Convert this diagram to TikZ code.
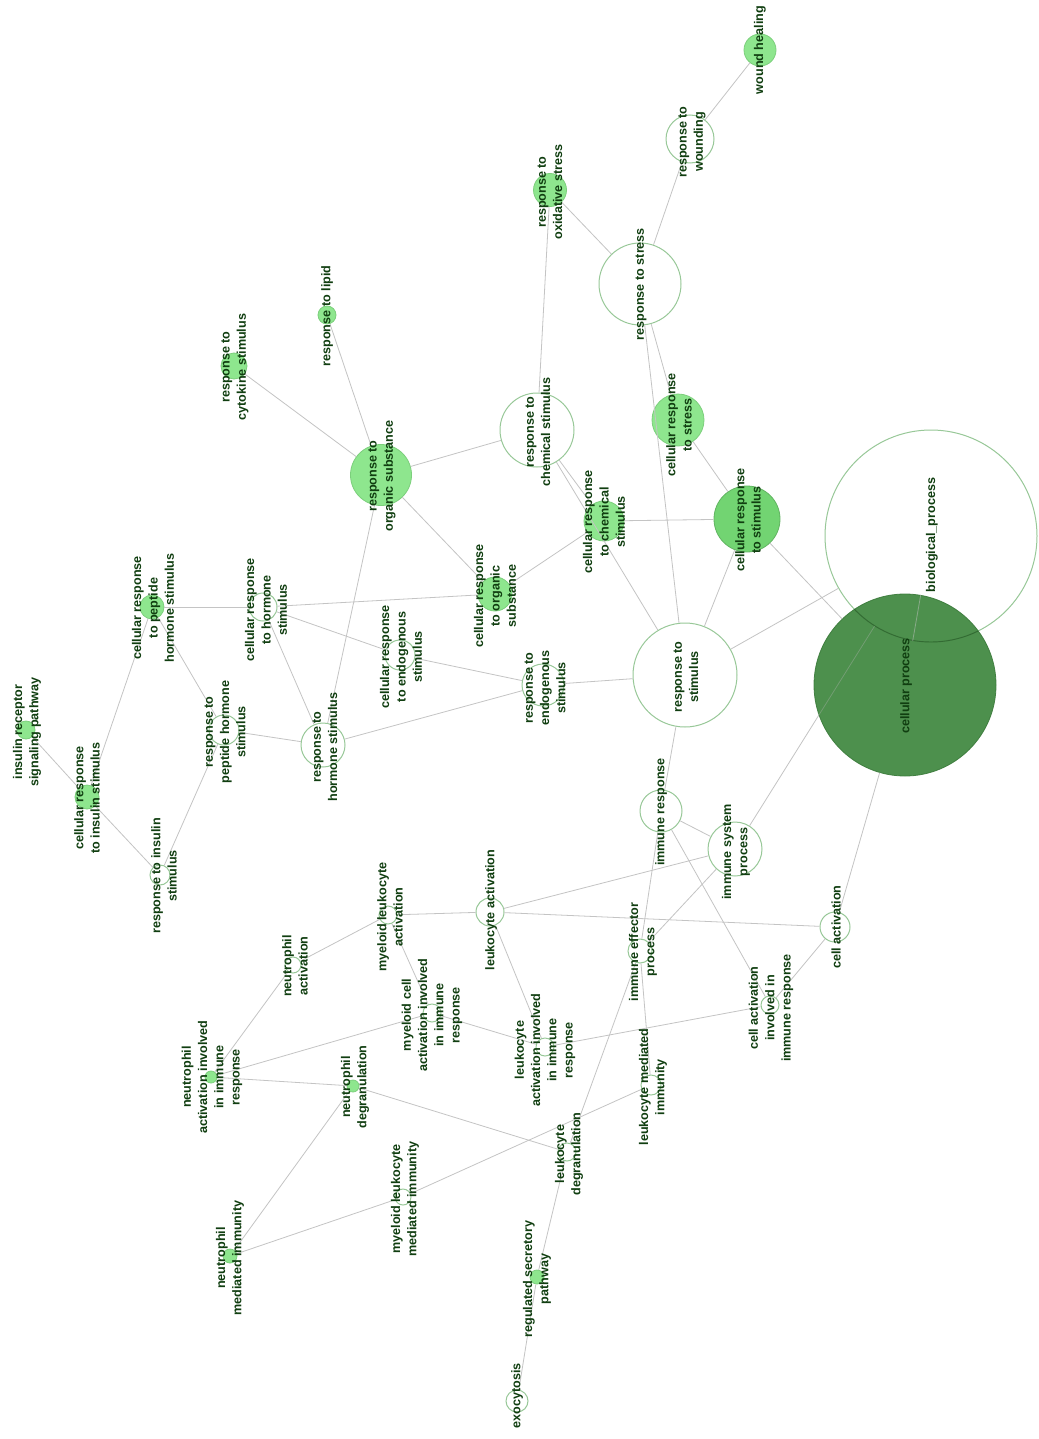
\documentclass[tikz,border=0pt]{standalone}
\usepackage{fontspec}
\setmainfont{Liberation Sans}
\definecolor{edgec}{HTML}{C4C4C4}
\definecolor{wbord}{HTML}{98C898}
\definecolor{lfill}{HTML}{8EE68E}
\definecolor{lbord}{HTML}{7CCF7C}
\definecolor{mfill}{HTML}{72D472}
\definecolor{dfill}{HTML}{3A843A}
\definecolor{dbord}{HTML}{3A7A3A}
\definecolor{txtc}{HTML}{103E10}
\tikzset{
  wn/.style={circle, draw=wbord, line width=1pt, fill=white, inner sep=0pt, minimum size=#1},
  fn/.style={circle, draw=lbord, line width=0.8pt, fill=lfill, inner sep=0pt, minimum size=#1},
  lbl/.style={rotate=90, align=center, inner sep=0pt, text=txtc,
    font=\bfseries\fontsize{12.6}{16.3}\selectfont},
  edge/.style={draw=edgec, line width=0.8pt}
}
\begin{document}
\begin{tikzpicture}[x=1pt,y=-1pt]
\useasboundingbox[fill=white] (0,0) rectangle (1038,1439);
% ---------- coordinates of nodes ----------
\coordinate (wh) at (760,50);
\coordinate (rw) at (690,139);
\coordinate (ros) at (550,190);
\coordinate (rs) at (640,284);
\coordinate (rl) at (327,315);
\coordinate (rcs) at (234,366);
\coordinate (rorg) at (381,475);
\coordinate (rchem) at (537,430);
\coordinate (crstr) at (678,420);
\coordinate (bio) at (931,536);
\coordinate (crstim) at (747,519);
\coordinate (crchem) at (604,521);
\coordinate (cp) at (905,685);
\coordinate (rstim) at (685,675);
\coordinate (crorg) at (495,594);
\coordinate (crendo) at (400,655);
\coordinate (rendo) at (543,685);
\coordinate (crhs) at (263,607);
\coordinate (crphs) at (152,607);
\coordinate (irsp) at (26,730);
\coordinate (cris) at (87,797);
\coordinate (rphs) at (224,730);
\coordinate (ris) at (160,875);
\coordinate (rhs) at (323,745);
\coordinate (ir) at (661,811);
\coordinate (isp) at (735,849);
\coordinate (la) at (490,912);
\coordinate (mla) at (388,915);
\coordinate (ca) at (835,927);
\coordinate (iep) at (640,951);
\coordinate (na) at (293,965);
\coordinate (mcai) at (432,1013);
\coordinate (caiir) at (770,1005);
\coordinate (naiir) at (211,1077);
\coordinate (nd) at (353,1086);
\coordinate (laiir) at (545,1047);
\coordinate (lmi) at (651,1085);
\coordinate (ld) at (567,1152);
\coordinate (mlmi) at (403,1197);
\coordinate (nmi) at (230,1256);
\coordinate (rsp) at (537,1277);
\coordinate (exo) at (517,1401);
% ---------- circles ----------
\node[circle, draw=wbord, line width=1pt, inner sep=0pt, minimum size=212pt] (Nbio) at (bio) {};
\node[fn=32pt] (Nwh) at (wh) {};
\node[wn=48pt] (Nrw) at (rw) {};
\node[fn=33pt] (Nros) at (ros) {};
\node[wn=82pt] (Nrs) at (rs) {};
\node[fn=18pt] (Nrl) at (rl) {};
\node[fn=26pt] (Nrcs) at (rcs) {};
\node[fn=61pt] (Nrorg) at (rorg) {};
\node[wn=74pt] (Nrchem) at (rchem) {};
\node[fn=52pt] (Ncrstr) at (crstr) {};
\node[fn=66pt, fill=mfill, draw=mfill!85!black] (Ncrstim) at (crstim) {};
\node[fn=40pt] (Ncrchem) at (crchem) {};
\node[wn=104pt] (Nrstim) at (rstim) {};
\node[fn=34pt] (Ncrorg) at (crorg) {};
\node[wn=30pt] (Ncrendo) at (crendo) {};
\node[wn=42pt] (Nrendo) at (rendo) {};
\node[wn=28pt] (Ncrhs) at (crhs) {};
\node[fn=24pt] (Ncrphs) at (crphs) {};
\node[fn=18pt] (Nirsp) at (irsp) {};
\node[fn=24pt] (Ncris) at (cris) {};
\node[wn=30pt] (Nrphs) at (rphs) {};
\node[wn=20pt] (Nris) at (ris) {};
\node[wn=44pt] (Nrhs) at (rhs) {};
\node[wn=42pt] (Nir) at (ir) {};
\node[wn=54pt] (Nisp) at (isp) {};
\node[wn=28pt] (Nla) at (la) {};
\node[wn=18pt] (Nmla) at (mla) {};
\node[wn=30pt] (Nca) at (ca) {};
\node[wn=24pt] (Niep) at (iep) {};
\node[wn=16pt] (Nna) at (na) {};
\node[wn=18pt] (Nmcai) at (mcai) {};
\node[wn=18pt] (Ncaiir) at (caiir) {};
\node[fn=12pt] (Nnaiir) at (naiir) {};
\node[fn=12pt] (Nnd) at (nd) {};
\node[wn=18pt] (Nlaiir) at (laiir) {};
\node[wn=20pt] (Nlmi) at (lmi) {};
\node[wn=18pt] (Nld) at (ld) {};
\node[wn=16pt] (Nmlmi) at (mlmi) {};
\node[fn=14pt] (Nnmi) at (nmi) {};
\node[fn=14pt] (Nrsp) at (rsp) {};
\node[wn=22pt] (Nexo) at (exo) {};
% ---------- edges ----------
\draw[edge] (Nwh) -- (Nrw);
\draw[edge] (Nrw) -- (Nrs);
\draw[edge] (Nros) -- (Nrs);
\draw[edge] (Nros) -- (Nrchem);
\draw[edge] (Nrs) -- (Ncrstr);
\draw[edge] (Nrs) -- (Nrstim);
\draw[edge] (Ncrstr) -- (Ncrstim);
\draw[edge] (Nrl) -- (Nrorg);
\draw[edge] (Nrcs) -- (Nrorg);
\draw[edge] (Nrorg) -- (Nrchem);
\draw[edge] (Nrorg) -- (Ncrorg);
\draw[edge] (Nrorg) -- (Nrhs);
\draw[edge] (Nrchem) -- (Ncrchem);
\draw[edge] (Nrchem) -- (Nrstim);
\draw[edge] (Ncrchem) -- (Ncrstim);
\draw[edge] (Ncrchem) -- (Ncrorg);
\draw[edge] (Ncrstim) -- (Nrstim);
\draw[edge] (Nrstim) -- (Nbio);
\draw[edge] (Nisp) -- (Nbio);
\draw[edge] (Nrstim) -- (Nir);
\draw[edge] (Nrstim) -- (Nrendo);
\draw[edge] (Nir) -- (Nisp);
\draw[edge] (Nir) -- (Niep);
\draw[edge] (Nir) -- (Ncaiir);
\draw[edge] (Nisp) -- (Niep);
\draw[edge] (Nisp) -- (Nla);
\draw[edge] (Nla) -- (Nca);
\draw[edge] (Nla) -- (Nmla);
\draw[edge] (Nla) -- (Nlaiir);
\draw[edge] (Nca) -- (Ncaiir);
\draw[edge] (Ncaiir) -- (Nlaiir);
\draw[edge] (Nmla) -- (Nna);
\draw[edge] (Nmla) -- (Nmcai);
\draw[edge] (Nmcai) -- (Nlaiir);
\draw[edge] (Nmcai) -- (Nnaiir);
\draw[edge] (Nna) -- (Nnaiir);
\draw[edge] (Nnaiir) -- (Nnd);
\draw[edge] (Nnd) -- (Nld);
\draw[edge] (Nnd) -- (Nnmi);
\draw[edge] (Nnmi) -- (Nmlmi);
\draw[edge] (Nmlmi) -- (Nlmi);
\draw[edge] (Niep) -- (Nlmi);
\draw[edge] (Niep) -- (Nld);
\draw[edge] (Nld) -- (Nrsp);
\draw[edge] (Nrsp) -- (Nexo);
\draw[edge] (Nrhs) -- (Nrphs);
\draw[edge] (Nrhs) -- (Ncrhs);
\draw[edge] (Nrhs) -- (Nrendo);
\draw[edge] (Nrphs) -- (Ncrphs);
\draw[edge] (Nrphs) -- (Nris);
\draw[edge] (Ncrphs) -- (Ncrhs);
\draw[edge] (Ncrphs) -- (Ncris);
\draw[edge] (Ncris) -- (Nirsp);
\draw[edge] (Ncris) -- (Nris);
\draw[edge] (Ncrhs) -- (Ncrorg);
\draw[edge] (Ncrhs) -- (Ncrendo);
\draw[edge] (Ncrendo) -- (Nrendo);
% ---------- cellular process (translucent, over its edges) ----------
\node[circle, draw=dbord, line width=0.8pt, fill=dfill, fill opacity=0.9, draw opacity=0.9, inner sep=0pt, minimum size=182pt] (Ncp) at (cp) {};
\begin{scope}
  \clip (cp) circle (91);
  \draw[dbord!70!black, line width=0.9pt, opacity=0.6] (bio) circle (106);
  \draw[edge, opacity=0.35] (Nisp) -- (Nbio);
\end{scope}
\draw[edge] (Ncrstim) -- (Ncp);
\draw[edge, opacity=0.5] (Nbio) -- (Ncp);
\draw[edge] (Ncp) -- (Nca);
% ---------- labels ----------
\node[lbl] (Lwh) at (760,50) {wound healing};
\node[lbl] (Lrw) at (692,142) {response to\\wounding};
\node[lbl] (Lros) at (550,192) {response to\\oxidative stress};
\node[lbl] (Lrs) at (641,284) {response to stress};
\node[lbl] (Lrl) at (327,316) {response to lipid};
\node[lbl] (Lrcs) at (235,367) {response to\\cytokine stimulus};
\node[lbl] (Lrorg) at (382,476) {response to\\organic substance};
\node[lbl] (Lrchem) at (538,432) {response to\\chemical stimulus};
\node[lbl] (Lcrstr) at (679,425) {cellular response\\to stress};
\node[lbl] (Lbio) at (932,535) {biological\_process};
\node[lbl] (Lcrstim) at (748,520) {cellular response\\to stimulus};
\node[lbl] (Lcrchem) at (604,522) {cellular response\\to chemical\\stimulus};
\node[lbl] (Lcp) at (906,686) {cellular process};
\node[lbl] (Lrstim) at (686,677) {response to\\stimulus};
\node[lbl] (Lcrorg) at (495,596) {cellular response\\to organic\\substance};
\node[lbl] (Lcrendo) at (401,657) {cellular response\\to endogenous\\stimulus};
\node[lbl] (Lrendo) at (545,688) {response to\\endogenous\\stimulus};
\node[lbl] (Lcrhs) at (266,610) {cellular response\\to hormone\\stimulus};
\node[lbl] (Lcrphs) at (153,608) {cellular response\\to peptide\\hormone stimulus};
\node[lbl] (Lirsp) at (27,732) {insulin receptor\\signaling pathway};
\node[lbl] (Lcris) at (87,798) {cellular response\\to insulin stimulus};
\node[lbl] (Lrphs) at (225,732) {response to\\peptide hormone\\stimulus};
\node[lbl] (Lris) at (164,876) {response to insulin\\stimulus};
\node[lbl] (Lrhs) at (325,747) {response to\\hormone stimulus};
\node[lbl] (Lir) at (661,812) {immune response};
\node[lbl] (Lisp) at (736,852) {immune system\\process};
\node[lbl] (Lla) at (491,910) {leukocyte activation};
\node[lbl] (Lmla) at (390,917) {myeloid leukocyte\\activation};
\node[lbl] (Lca) at (836,927) {cell activation};
\node[lbl] (Liep) at (643,952) {immune effector\\process};
\node[lbl] (Lna) at (295,966) {neutrophil\\activation};
\node[lbl] (Lmcai) at (432,1015) {myeloid cell\\activation involved\\in immune\\response};
\node[lbl] (Lcaiir) at (771,1008) {cell activation\\involved in\\immune response};
\node[lbl] (Lnaiir) at (212,1077) {neutrophil\\activation involved\\in immune\\response};
\node[lbl] (Lnd) at (355,1087) {neutrophil\\degranulation};
\node[lbl] (Llaiir) at (545,1050) {leukocyte\\activation involved\\in immune\\response};
\node[lbl] (Llmi) at (653,1087) {leukocyte mediated\\immunity};
\node[lbl] (Lld) at (569,1154) {leukocyte\\degranulation};
\node[lbl] (Lmlmi) at (405,1199) {myeloid leukocyte\\mediated immunity};
\node[lbl] (Lnmi) at (230,1258) {neutrophil\\mediated immunity};
\node[lbl] (Lrsp) at (537,1279) {regulated secretory\\pathway};
\node[lbl] (Lexo) at (517,1396) {exocytosis};
\end{tikzpicture}
\end{document}
